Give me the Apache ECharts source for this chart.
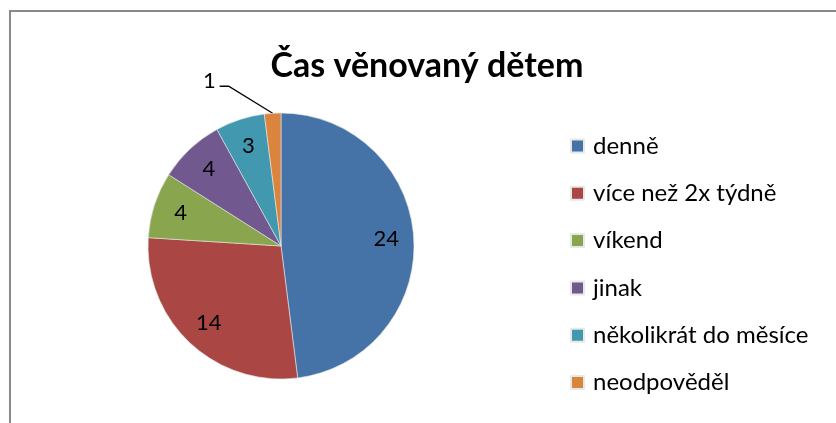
<!DOCTYPE html>
<html>
<head>
<meta charset="utf-8">
<script src="https://cdn.jsdelivr.net/npm/echarts@6/dist/echarts.min.js"></script>
<style>
  html, body { margin: 0; padding: 0; background: #fff; }
  #chart { width: 836px; height: 423px; }
</style>
</head>
<body>
<div id="chart"></div>
<script>
const titleText = "Čas věnovaný dětem";
const categories = ["denně", "více než 2x týdně", "víkend", "jinak", "několikrát do měsíce", "neodpověděl"];
const values = [24, 14, 4, 4, 3, 1];
const colors = ["#4572A7", "#AA4643", "#89A54E", "#71588F", "#4198AF", "#DB843D"];

const font = "Lato, 'Open Sans', sans-serif";
const lastIdx = values.length - 1;
const pieData = categories.map((name, i) => ({
  name: name,
  value: values[i],
  itemStyle: { color: colors[i] }
}));

const chart = echarts.init(document.getElementById("chart"), null, { renderer: "canvas" });

chart.setOption({
  animation: false,
  backgroundColor: "#fff",
  title: {
    text: titleText,
    left: 422,
    top: 44,
    textAlign: "center",
    textStyle: { fontFamily: font, fontWeight: "bold", fontSize: 34, color: "#000" }
  },
  legend: {
    orient: "vertical",
    left: 570,
    top: 134,
    padding: 0,
    itemWidth: 13,
    itemHeight: 13,
    itemGap: 23.3,
    icon: "rect",
    data: categories,
    textStyle: { fontFamily: font, fontSize: 24, color: "#000", lineHeight: 24, padding: [0, 0, 0, 4] }
  },
  graphic: [{
    type: "rect",
    shape: { x: 10, y: 11, width: 900, height: 500 },
    style: { fill: "none", stroke: "#898989", lineWidth: 2 },
    silent: true
  }],
  series: [
    {
      type: "pie",
      center: [281, 246],
      radius: 133,
      startAngle: 90,
      clockwise: true,
      label: { show: false },
      labelLine: { show: false },
      itemStyle: { borderColor: "#e8e8e8", borderWidth: 0.6 },
      emphasis: { disabled: true },
      data: pieData
    },
    {
      // transparent ring on top that only carries the value labels
      type: "pie",
      center: [281, 246],
      radius: [72, 133],
      startAngle: 90,
      clockwise: true,
      silent: true,
      legendHoverLink: false,
      itemStyle: { color: "rgba(0,0,0,0)" },
      emphasis: { disabled: true },
      label: {
        show: true,
        position: "inside",
        formatter: "{c}",
        fontFamily: font,
        fontSize: 22,
        color: "#000"
      },
      labelLine: { show: false },
      labelLayout: function (p) {
        if (p.dataIndex !== lastIdx || !p.labelLinePoints) return;
        const s = p.labelLinePoints[0];
        const m = [s[0] - 44, s[1] - 27];
        const e = [m[0] - 9, m[1]];
        return { x: e[0] - 4, y: e[1] - 5, align: "right", verticalAlign: "middle", labelLinePoints: [s, m, e] };
      },
      data: values.map((v, i) => {
        const d = { name: "_" + categories[i], value: v };
        if (i === lastIdx) {
          d.label = { position: "outside" };
          d.labelLine = { show: true, length: 30, length2: 10, lineStyle: { color: "#000", width: 1.3 } };
        }
        return d;
      })
    }
  ]
});
</script>
</body>
</html>
